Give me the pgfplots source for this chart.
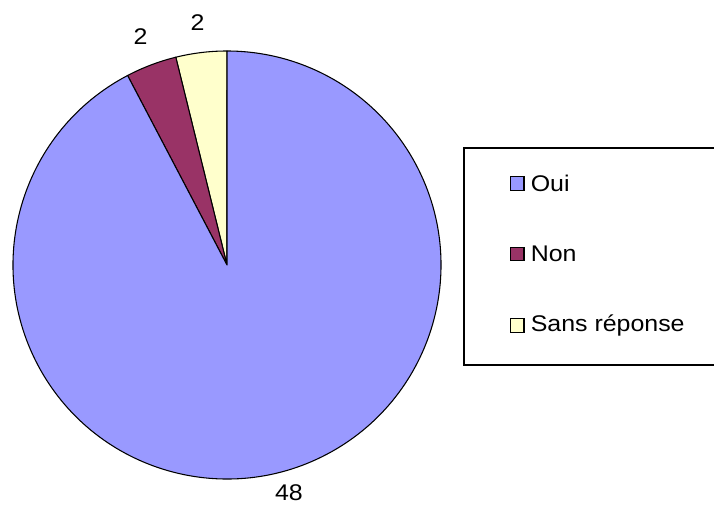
\documentclass[border=0pt]{standalone}
\usepackage{pgfplots}
\pgfplotsset{compat=1.18}
\usepackage{fontspec}
\setmainfont{Liberation Sans}[FakeStretch=1.1]
\definecolor{oui}{HTML}{9999FF}
\definecolor{non}{HTML}{993366}
\definecolor{sans}{HTML}{FFFFCC}
\newcommand\lf{\fontsize{17}{20}\selectfont}
\begin{document}
\begin{tikzpicture}
\begin{axis}[hide axis, scale only axis, width=535.5pt, height=379.5pt,
  xmin=0, xmax=714, ymin=0, ymax=506, clip=false]
\coordinate (bl) at (axis cs:0,0);
\coordinate (tr) at (axis cs:714,506);
% pie data: value / colour / label distance (px) / label x shift (px)
\gdef\s{90}
\foreach \val/\col/\lr/\dx in {2/sans/244/0, 2/non/244/0, 48/oui/234/6}{
  \pgfmathsetmacro\e{\s+\val/52*360}
  \pgfmathsetmacro\m{(\s+\e)/2}
  \pgfmathsetmacro\rr{\lr*0.75}
  \pgfmathsetmacro\dd{\dx*0.75}
  \edef\cmd{\noexpand\filldraw[fill=\col,draw=black,line width=0.8pt,line join=round]
    (axis cs:227,241) -- ++(\s:160.5pt) arc[start angle=\s,end angle=\e,radius=160.5pt] -- cycle;
    \noexpand\node[font=\noexpand\lf,inner sep=0pt,xshift=\dd pt] at ([shift={(\m:\rr pt)}]axis cs:227,241) {\val};}
  \cmd
  \xdef\s{\e}
}
% legend
\draw[line width=0.8pt] (axis cs:713.5,358) -- (axis cs:464,358) -- (axis cs:464,141) -- (axis cs:713.5,141);
\foreach \y/\col/\t in {322.5/oui/Oui, 252/non/Non, 180.5/sans/{Sans réponse}}{
  \edef\cmd{\noexpand\filldraw[fill=\col,draw=black,line width=1pt]
    (axis cs:510.5,\y-6.8) rectangle (axis cs:524,\y+6.8);
    \noexpand\node[font=\noexpand\lf,anchor=west,inner sep=0pt] at (axis cs:530.5,\y) {\t};}
  \cmd
}
\end{axis}
\pgfresetboundingbox
\useasboundingbox (bl) rectangle (tr);
\end{tikzpicture}
\end{document}
